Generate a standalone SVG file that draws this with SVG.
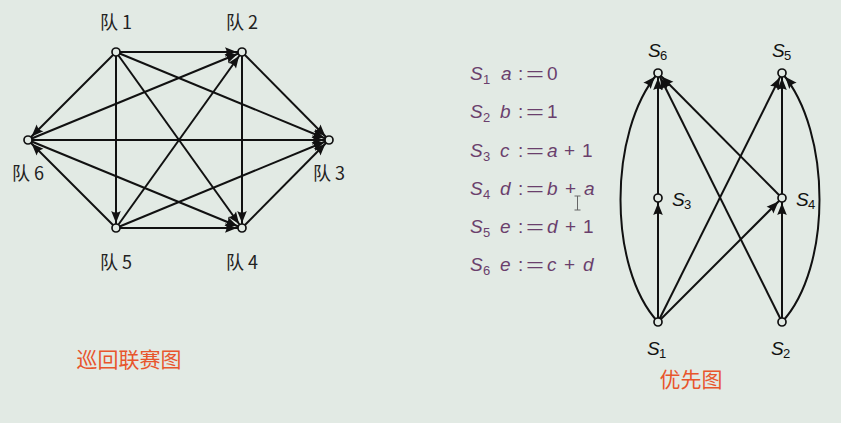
<svg xmlns="http://www.w3.org/2000/svg" width="841" height="423" viewBox="0 0 841 423">
<style>
.e{stroke:#111;stroke-width:2;fill:none;marker-end:url(#ah)}
.nd{fill:#e2eae4;stroke:#111;stroke-width:1.7}
.cj{font-family:"Noto Sans CJK SC","Noto Sans",sans-serif;font-size:18px;fill:#222}
.red{font-family:"Noto Sans CJK SC",sans-serif;font-size:21px;fill:#e8552c}
.m{font-family:"Liberation Sans","DejaVu Sans",sans-serif;font-size:19px}
.it{font-style:italic}
.sub{font-family:"Liberation Sans",sans-serif;font-size:13px}
.pu{fill:#6a3f6c}
.bk{fill:#111}
</style>
<defs>
<marker id="ah" markerUnits="userSpaceOnUse" viewBox="-14 -7 22 14" refX="5" refY="0" markerWidth="22" markerHeight="14" orient="auto" overflow="visible">
<path d="M0,0 L-12,-4.8 Q-9,0 -12,4.8 Z" fill="#111"/>
</marker>
</defs>
<rect width="841" height="423" fill="#e2eae4"/>

<g id="connectors">
<line class="e" x1="116" y1="52" x2="242" y2="52"/>
<line class="e" x1="116" y1="52" x2="329" y2="140"/>
<line class="e" x1="116" y1="52" x2="242" y2="228"/>
<line class="e" x1="116" y1="52" x2="116" y2="228"/>
<line class="e" x1="116" y1="52" x2="28" y2="140"/>
<line class="e" x1="242" y1="52" x2="329" y2="140"/>
<line class="e" x1="242" y1="52" x2="242" y2="228"/>
<line class="e" x1="242" y1="228" x2="329" y2="140"/>
<line class="e" x1="116" y1="228" x2="242" y2="52"/>
<line class="e" x1="116" y1="228" x2="329" y2="140"/>
<line class="e" x1="116" y1="228" x2="242" y2="228"/>
<line class="e" x1="116" y1="228" x2="28" y2="140"/>
<line class="e" x1="28" y1="140" x2="242" y2="52"/>
<line class="e" x1="28" y1="140" x2="329" y2="140"/>
<line class="e" x1="28" y1="140" x2="242" y2="228"/>
<line class="e" x1="658" y1="322" x2="658" y2="198"/>
<line class="e" x1="658" y1="198" x2="658" y2="73"/>
<path class="e" d="M658,322 C608,268 608,132 658,73"/>
<line class="e" x1="658" y1="322" x2="782" y2="73"/>
<line class="e" x1="658" y1="322" x2="782" y2="198"/>
<line class="e" x1="782" y1="198" x2="658" y2="73"/>
<line class="e" x1="782" y1="322" x2="658" y2="73"/>
<line class="e" x1="782" y1="322" x2="782" y2="198"/>
<line class="e" x1="782" y1="198" x2="782" y2="73"/>
<path class="e" d="M782,322 C832,268 832,132 782,73"/>
</g>

<g id="team1"><circle class="nd" cx="116" cy="52" r="4"/><text class="cj" x="116" y="29" text-anchor="middle">队 1</text></g>
<g id="team2"><circle class="nd" cx="242" cy="52" r="4"/><text class="cj" x="242" y="29" text-anchor="middle">队 2</text></g>
<g id="team3"><circle class="nd" cx="329" cy="140" r="4"/><text class="cj" x="329" y="180" text-anchor="middle">队 3</text></g>
<g id="team4"><circle class="nd" cx="242" cy="228" r="4"/><text class="cj" x="242" y="269" text-anchor="middle">队 4</text></g>
<g id="team5"><circle class="nd" cx="116" cy="228" r="4"/><text class="cj" x="116" y="269" text-anchor="middle">队 5</text></g>
<g id="team6"><circle class="nd" cx="28" cy="140" r="4"/><text class="cj" x="28" y="180" text-anchor="middle">队 6</text></g>

<g id="s6"><circle class="nd" cx="658" cy="73" r="4"/><text class="m it bk" x="648" y="57">S</text><text class="sub bk" x="660" y="60">6</text></g>
<g id="s5"><circle class="nd" cx="782" cy="73" r="4"/><text class="m it bk" x="772" y="57">S</text><text class="sub bk" x="784" y="60">5</text></g>
<g id="s3"><circle class="nd" cx="658" cy="198" r="4"/><text class="m it bk" x="672" y="206">S</text><text class="sub bk" x="684" y="209">3</text></g>
<g id="s4"><circle class="nd" cx="782" cy="198" r="4"/><text class="m it bk" x="796" y="206">S</text><text class="sub bk" x="808" y="209">4</text></g>
<g id="s1"><circle class="nd" cx="658" cy="322" r="4"/><text class="m it bk" x="647" y="355">S</text><text class="sub bk" x="659" y="358">1</text></g>
<g id="s2"><circle class="nd" cx="782" cy="322" r="4"/><text class="m it bk" x="771" y="355">S</text><text class="sub bk" x="783" y="358">2</text></g>

<g id="statements" class="pu">
<g><text class="m it" x="470" y="80">S</text><text class="sub" x="483" y="84">1</text><text class="m it" x="501" y="80">a</text><text class="m" x="518" y="80">:</text><text class="m" x="526" y="80" textLength="18" lengthAdjust="spacingAndGlyphs">=</text><text class="m" x="547" y="80">0</text></g>
<g><text class="m it" x="470" y="118">S</text><text class="sub" x="483" y="122">2</text><text class="m it" x="500" y="118">b</text><text class="m" x="518" y="118">:</text><text class="m" x="526" y="118" textLength="18" lengthAdjust="spacingAndGlyphs">=</text><text class="m" x="547" y="118">1</text></g>
<g><text class="m it" x="470" y="157">S</text><text class="sub" x="483" y="161">3</text><text class="m it" x="500" y="157">c</text><text class="m" x="518" y="157">:</text><text class="m" x="526" y="157" textLength="18" lengthAdjust="spacingAndGlyphs">=</text><text class="m it" x="547" y="157">a</text><text class="m" x="564" y="157">+</text><text class="m" x="582" y="157">1</text></g>
<g><text class="m it" x="470" y="195">S</text><text class="sub" x="483" y="199">4</text><text class="m it" x="500" y="195">d</text><text class="m" x="518" y="195">:</text><text class="m" x="526" y="195" textLength="18" lengthAdjust="spacingAndGlyphs">=</text><text class="m it" x="547" y="195">b</text><text class="m" x="565" y="195">+</text><text class="m it" x="584" y="195">a</text></g>
<g><text class="m it" x="470" y="233">S</text><text class="sub" x="483" y="237">5</text><text class="m it" x="500" y="233">e</text><text class="m" x="518" y="233">:</text><text class="m" x="526" y="233" textLength="18" lengthAdjust="spacingAndGlyphs">=</text><text class="m it" x="547" y="233">d</text><text class="m" x="565" y="233">+</text><text class="m" x="583" y="233">1</text></g>
<g><text class="m it" x="470" y="271">S</text><text class="sub" x="483" y="275">6</text><text class="m it" x="500" y="271">e</text><text class="m" x="518" y="271">:</text><text class="m" x="526" y="271" textLength="18" lengthAdjust="spacingAndGlyphs">=</text><text class="m it" x="547" y="271">c</text><text class="m" x="564" y="271">+</text><text class="m it" x="583" y="271">d</text></g>
</g>
<path d="M574.5,196 h6 M577.5,196 v14 M574.5,210 h6" stroke="#666" stroke-width="1" fill="none"/>

<text class="red" x="129" y="367" text-anchor="middle">巡回联赛图</text>
<text class="red" x="691" y="387" text-anchor="middle">优先图</text>
</svg>
